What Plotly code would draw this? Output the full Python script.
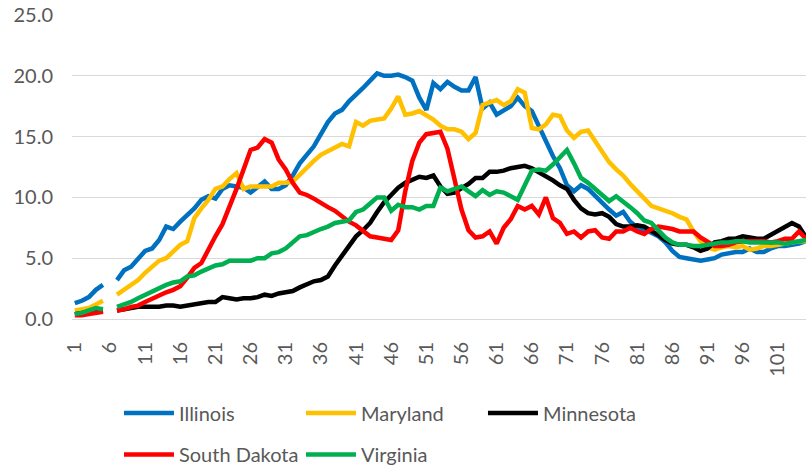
import plotly.graph_objects as go

N_WEEKS = 105
weeks = list(range(1, N_WEEKS + 1))
tick_weeks = list(range(1, N_WEEKS + 1, 5))
tick_labels = [str(w) for w in tick_weeks]

# week 6 is missing in the source data (gap in every line)
illinois = [
    1.3, 1.5, 1.8, 2.4, 2.8, None, 3.2, 4.0, 4.3, 5.0,
    5.6, 5.8, 6.5, 7.6, 7.4, 8.0, 8.5, 9.1, 9.8, 10.1,
    9.9, 10.7, 11.0, 10.9, 10.8, 10.4, 10.9, 11.3, 10.7, 10.7,
    11.0, 11.8, 12.8, 13.5, 14.2, 15.2, 16.2, 16.9, 17.2, 17.9,
    18.4, 19.0, 19.6, 20.2, 20.0, 20.0, 20.1, 19.9, 19.6, 18.2,
    17.2, 19.4, 18.9, 19.5, 19.1, 18.8, 18.8, 19.9, 17.3, 17.8,
    16.8, 17.2, 17.5, 18.2, 17.5, 17.1, 15.8, 14.6, 13.4, 12.4,
    11.0, 10.5, 11.0, 10.7, 10.1, 9.5, 9.0, 8.5, 8.8, 8.0,
    7.5, 7.3, 7.1, 6.8, 6.3, 5.6, 5.1, 5.0, 4.9, 4.8,
    4.9, 5.0, 5.3, 5.4, 5.5, 5.5, 5.8, 5.5, 5.5, 5.8,
    6.0, 6.0, 6.1, 6.2, 6.4,
]
maryland = [
    0.7, 0.8, 0.9, 1.2, 1.5, None, 2.0, 2.4, 2.7, 3.2,
    3.8, 4.3, 4.8, 5.0, 5.5, 6.1, 6.4, 8.3, 9.1, 9.8,
    10.7, 10.9, 11.5, 12.0, 10.7, 10.9, 10.9, 10.9, 10.9, 11.2,
    11.2, 11.3, 11.9, 12.4, 13.0, 13.5, 13.8, 14.0, 14.4, 14.2,
    16.2, 15.9, 16.3, 16.4, 16.5, 17.3, 18.3, 16.8, 16.9, 17.1,
    16.8, 16.4, 15.9, 15.6, 15.6, 15.4, 14.8, 15.3, 17.6, 17.8,
    18.0, 17.6, 17.9, 18.9, 18.6, 15.7, 15.6, 16.0, 16.8, 16.7,
    15.5, 14.9, 15.4, 15.5, 14.6, 13.7, 12.9, 12.3, 11.8, 11.1,
    10.5, 10.0, 9.3, 9.1, 8.9, 8.7, 8.4, 8.2, 7.2, 6.4,
    5.9, 5.7, 5.9, 6.0, 5.9, 6.0, 5.7, 5.8, 6.0, 6.0,
    6.1, 6.2, 6.3, 6.4, 6.4,
]
minnesota = [
    0.4, 0.5, 0.5, 0.6, 0.7, None, 0.7, 0.8, 0.9, 1.0,
    1.0, 1.0, 1.0, 1.1, 1.1, 1.0, 1.1, 1.2, 1.3, 1.4,
    1.4, 1.8, 1.7, 1.6, 1.7, 1.7, 1.8, 2.0, 1.9, 2.1,
    2.2, 2.3, 2.6, 2.9, 3.1, 3.2, 3.5, 4.4, 5.2, 5.9,
    6.8, 7.3, 7.9, 8.8, 9.6, 10.2, 10.8, 11.2, 11.5, 11.7,
    11.6, 11.8, 10.9, 10.3, 10.4, 10.7, 11.1, 11.6, 11.6, 12.1,
    12.1, 12.2, 12.4, 12.5, 12.6, 12.4, 12.1, 11.8, 11.4, 11.0,
    10.7, 9.8, 9.1, 8.7, 8.6, 8.7, 8.4, 7.8, 7.6, 7.6,
    7.7, 7.6, 7.3, 6.9, 6.5, 6.2, 6.1, 6.1, 5.9, 5.6,
    5.8, 6.3, 6.4, 6.6, 6.6, 6.8, 6.7, 6.6, 6.6, 6.9,
    7.3, 7.6, 7.9, 7.6, 6.7,
]
south_dakota = [
    0.3, 0.3, 0.4, 0.5, 0.6, None, 0.7, 0.8, 1.0, 1.1,
    1.4, 1.7, 2.0, 2.2, 2.4, 2.7, 3.4, 4.2, 4.6, 5.8,
    6.8, 7.8, 9.2, 10.7, 12.3, 13.9, 14.1, 14.8, 14.5, 13.1,
    12.3, 11.2, 10.4, 10.2, 9.9, 9.5, 9.2, 8.9, 8.4, 8.0,
    7.7, 7.3, 6.8, 6.7, 6.6, 6.5, 7.3, 10.5, 13.0, 14.5,
    15.2, 15.3, 15.4, 14.0, 11.5, 9.0, 7.3, 6.7, 6.8, 7.2,
    6.2, 7.5, 8.2, 9.3, 9.0, 9.3, 8.6, 10.0, 8.3, 7.9,
    7.0, 7.2, 6.7, 7.2, 7.3, 6.7, 6.6, 7.2, 7.2, 7.5,
    7.2, 7.0, 7.4, 7.6, 7.5, 7.4, 7.2, 7.2, 7.2, 6.7,
    6.3, 6.0, 6.0, 6.1, 6.3, 6.4, 6.4, 6.4, 6.4, 6.3,
    6.4, 6.6, 6.6, 7.2, 6.6,
]
virginia = [
    0.4, 0.5, 0.7, 0.9, 0.8, None, 1.0, 1.2, 1.4, 1.7,
    2.0, 2.2, 2.5, 2.8, 3.0, 3.1, 3.5, 3.6, 3.9, 4.2,
    4.4, 4.5, 4.8, 4.8, 4.8, 4.8, 5.0, 5.0, 5.4, 5.5,
    5.8, 6.3, 6.8, 6.9, 7.2, 7.4, 7.6, 7.9, 8.0, 8.1,
    8.8, 9.0, 9.5, 10.0, 10.0, 8.9, 9.4, 9.2, 9.2, 9.0,
    9.3, 9.3, 10.8, 10.5, 10.7, 10.9, 10.5, 10.1, 10.6, 10.2,
    10.5, 10.4, 10.1, 9.8, 11.0, 12.2, 12.3, 12.2, 12.7, 13.3,
    13.9, 12.8, 11.6, 11.2, 10.7, 10.2, 9.7, 10.1, 9.7, 9.2,
    8.7, 8.1, 7.9, 7.3, 6.7, 6.3, 6.1, 6.1, 6.0, 6.0,
    6.1, 6.2, 6.3, 6.3, 6.4, 6.4, 6.3, 6.3, 6.3, 6.3,
    6.3, 6.2, 6.3, 6.4, 6.5,
]

SERIES = [
    ("Illinois", illinois, "#0070C0", "legend"),
    ("Maryland", maryland, "#FFC000", "legend"),
    ("Minnesota", minnesota, "#000000", "legend"),
    ("South Dakota", south_dakota, "#FF0000", "legend2"),
    ("Virginia", virginia, "#00B050", "legend2"),
]

FONT = "Lato"
TEXT_COLOR = "#595959"
GRID_COLOR = "#D9D9D9"

fig = go.Figure()
for name, values, color, legend in SERIES:
    fig.add_trace(
        go.Scatter(
            x=weeks,
            y=values,
            name=name,
            mode="lines",
            legend=legend,
            line=dict(color=color, width=4.5),
        )
    )

legend_style = dict(
    orientation="h",
    xanchor="left",
    yanchor="middle",
    x=0.064,
    bgcolor="rgba(0,0,0,0)",
    font=dict(family=FONT, size=20, color=TEXT_COLOR),
    itemwidth=50,
    entrywidth=117,
    traceorder="normal",
)

fig.update_layout(
    width=806,
    height=474,
    margin=dict(l=72, r=0, t=15, b=154),
    paper_bgcolor="white",
    plot_bgcolor="white",
    font=dict(family=FONT, size=20, color=TEXT_COLOR),
    legend=dict(legend_style, y=-0.305),
    legend2=dict(legend_style, y=-0.448),
    xaxis=dict(
        range=[0.6, 105],
        tickmode="array",
        tickvals=tick_weeks,
        ticktext=tick_labels,
        tickangle=-90,
        showgrid=False,
        zeroline=False,
        showline=False,
        ticks="",
        ticklabelstandoff=18,
        tickfont=dict(family=FONT, size=20, color=TEXT_COLOR),
    ),
    yaxis=dict(
        range=[0, 25],
        tickmode="array",
        tickvals=[0, 5, 10, 15, 20, 25],
        ticktext=["0.0", "5.0", "10.0", "15.0", "20.0", "25.0"],
        showgrid=True,
        gridcolor=GRID_COLOR,
        gridwidth=1,
        zeroline=True,
        zerolinecolor=GRID_COLOR,
        zerolinewidth=1,
        showline=False,
        ticks="",
        ticklabelstandoff=18,
        tickfont=dict(family=FONT, size=20, color=TEXT_COLOR),
    ),
)

# the page body has a default 8px margin; drop it so the figure sits at 0,0
fig.write_html(
    "out.html",
    config={"displayModeBar": False},
    post_script="document.body.style.margin = '0';",
)
